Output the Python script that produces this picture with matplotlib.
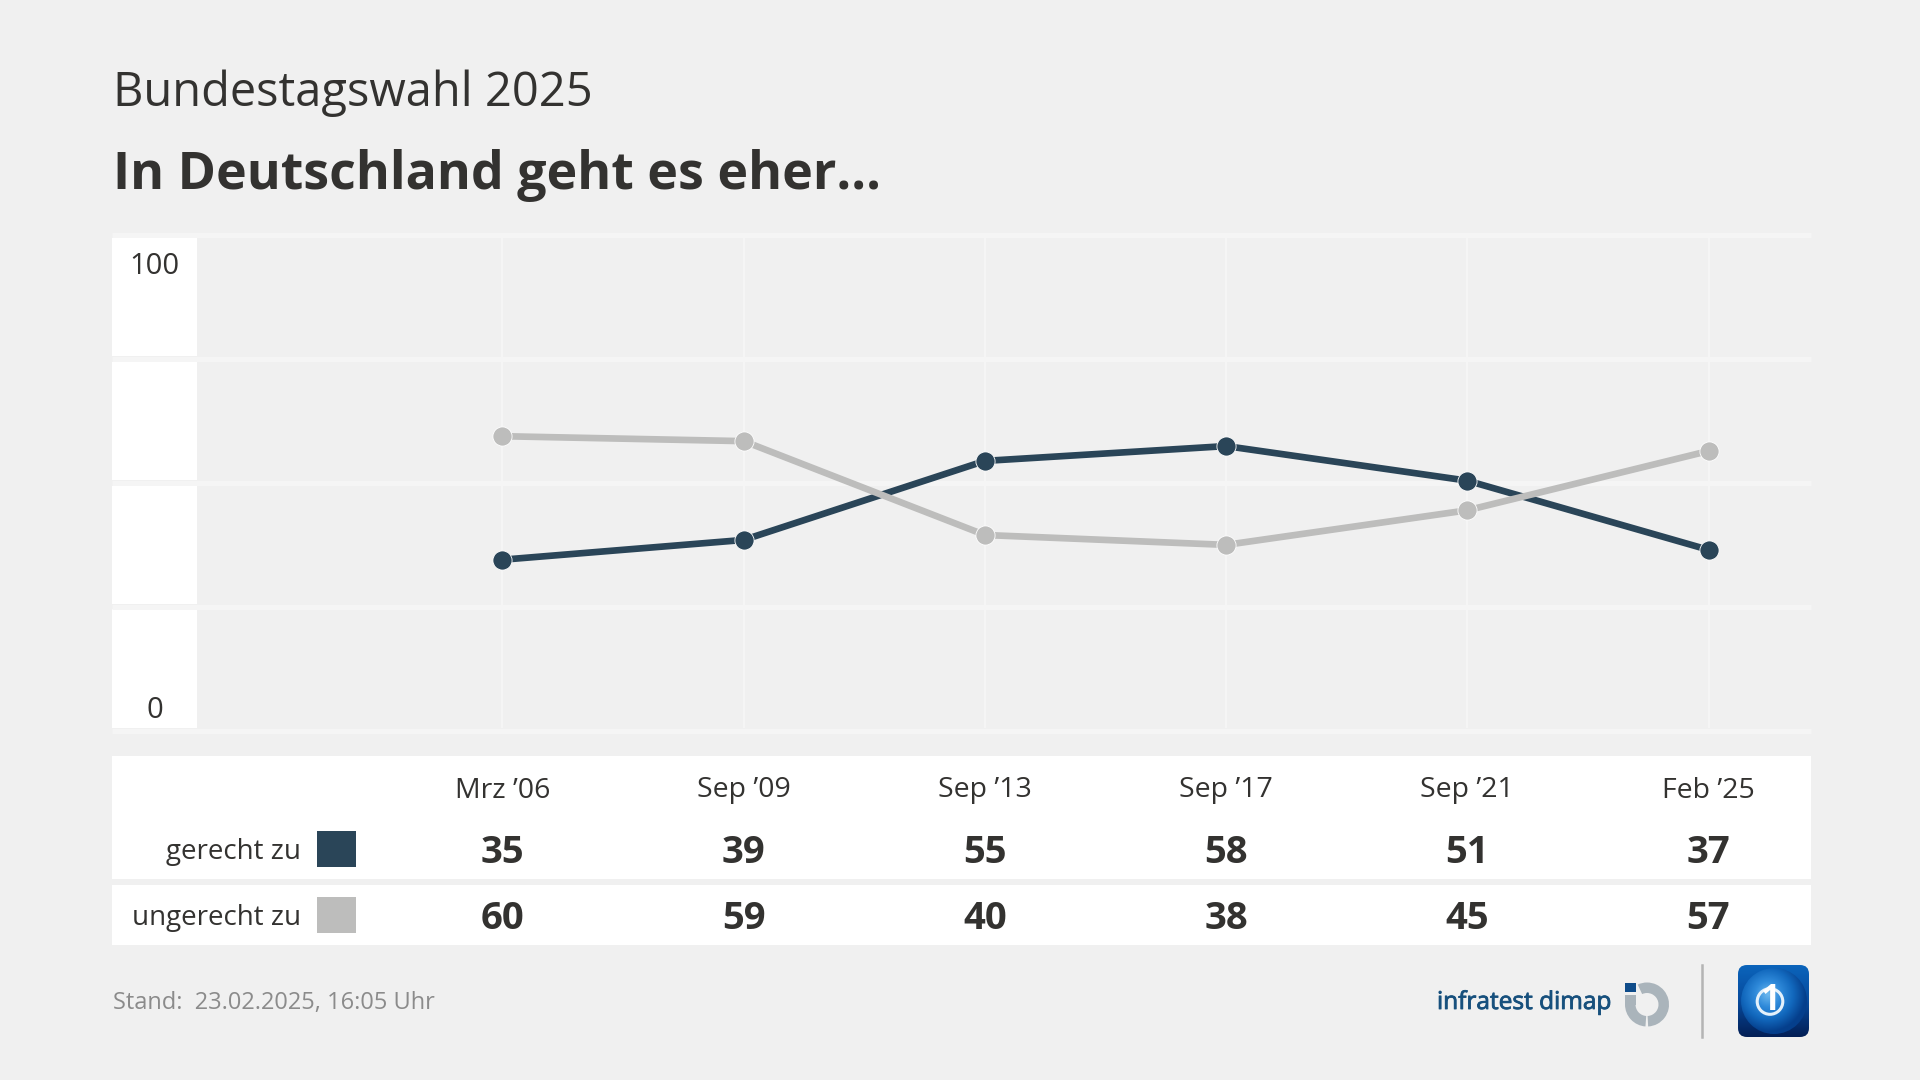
"""Bundestagswahl 2025 - In Deutschland geht es eher..."""
import matplotlib

matplotlib.use("Agg")
import matplotlib.pyplot as plt
import matplotlib.patheffects as pe
import numpy as np
from matplotlib.colors import LinearSegmentedColormap
from matplotlib.patches import Circle, FancyBboxPatch, Rectangle, Wedge

FONT = ["Open Sans", "DejaVu Sans"]
plt.rcParams["font.family"] = FONT

# data
dates = ["Mrz ’06", "Sep ’09", "Sep ’13", "Sep ’17", "Sep ’21", "Feb ’25"]
gerecht = [35, 39, 55, 58, 51, 37]
ungerecht = [60, 59, 40, 38, 45, 57]
series_names = ["gerecht zu", "ungerecht zu"]

BG = "#f0f0f0"
GRID = "#f5f5f5"
DARK = "#2a4558"
GREY = "#bdbdbc"
TEXT = "#333230"
LOGO_BLUE = "#17507d"

W, H = 1920, 1080
# pixel positions of the plot
X0, X5 = 502.5, 1708.5
Y0, Y100 = 732.6, 238.6
LEFT, RIGHT = 112, 1811


def px_to_col(x):
    return (x - X0) / (X5 - X0) * 5


def px_to_val(y):
    return (Y0 - y) / (Y0 - Y100) * 100


fig = plt.figure(figsize=(W / 100, H / 100), dpi=100, facecolor=BG)

# overlay in pixels for table, strips, titles, logos
bg = fig.add_axes([0, 0, 1, 1])
bg.axis("off")

bg.text(113, 93, "Bundestagswahl 2025", fontsize=33.8, color=TEXT, va="center")
bg.text(113, 175, "In Deutschland geht es eher...", fontsize=37.4, color=TEXT,
        va="center", fontweight="bold")

# white strip behind y labels + grid bands
for top, bottom in [(238, 356), (362, 480), (486, 604), (609, 728)]:
    bg.add_patch(Rectangle((LEFT, top), 197 - LEFT, bottom - top, fc="white", ec="none"))
for yy in [235, 359, 483, 606.5, 730.5]:
    bg.plot([LEFT, RIGHT], [yy, yy], color=GRID, lw=3.6, solid_capstyle="butt")

bg.text(154.5, 266, "100", fontsize=21, color=TEXT, ha="center", va="center")
bg.text(154.5, 711, "0", fontsize=21, color=TEXT, ha="center", va="center")

# the line chart
top_px, bot_px = 233, 734
ax = fig.add_axes([LEFT / W, 1 - bot_px / H, (RIGHT - LEFT) / W, (bot_px - top_px) / H])
ax.patch.set_alpha(0)
ax.set_xlim(px_to_col(LEFT), px_to_col(RIGHT))
ax.set_ylim(px_to_val(bot_px), px_to_val(top_px))
ax.axis("off")
xs = np.arange(len(dates))
ax.vlines(xs, px_to_val(728), px_to_val(238), color=GRID, lw=1.6, zorder=1)
ax.plot(xs, gerecht, color=DARK, lw=4.8, marker="o", ms=13.8, mec="white", mew=0.6, zorder=3)
ax.plot(xs, ungerecht, color=GREY, lw=4.8, marker="o", ms=13.8, mec="white", mew=0.6, zorder=4)

# table below
bg.add_patch(Rectangle((LEFT, 756), RIGHT - LEFT, 123, fc="white", ec="none"))
bg.add_patch(Rectangle((LEFT, 885), RIGHT - LEFT, 60, fc="white", ec="none"))
col_px = [X0 + (X5 - X0) * i / 5 for i in range(len(dates))]
for x, d, a, b in zip(col_px, dates, gerecht, ungerecht):
    bg.text(x, 790.5, d, fontsize=20.5, color=TEXT, ha="center", va="center")
    bg.text(x, 853, str(a), fontsize=27.5, color=TEXT, ha="center", va="center", fontweight="bold")
    bg.text(x, 919, str(b), fontsize=27.5, color=TEXT, ha="center", va="center", fontweight="bold")
for name, c, top, ty in zip(series_names, [DARK, GREY], [831, 897], [852, 918]):
    bg.text(301, ty, name, fontsize=20, color=TEXT, ha="right", va="center")
    bg.add_patch(Rectangle((317, top), 39, 36, fc=c, ec="none"))

# footer
bg.text(113, 1003, "Stand:  23.02.2025, 16:05 Uhr", fontsize=17, color="#8b8b8b", va="center")
bg.text(1437, 1003, "infratest dimap", fontsize=17.6, color=LOGO_BLUE, va="center",
        path_effects=[pe.withStroke(linewidth=0.6, foreground=LOGO_BLUE)])

# infratest logo mark
RING = "#aab4bb"
bg.add_patch(Rectangle((1625, 983), 10.5, 9, fc="#0f4c8a", ec="none"))
bg.add_patch(Wedge((1647, 1004.5), 22, -115, 87, width=10.5, fc=RING, ec="none"))
bg.add_patch(Wedge((1647, 1004.5), 22, 94, 180, width=10.5, fc=RING, ec="none"))
bg.add_patch(Rectangle((1625, 995), 10.5, 9.7, fc=RING, ec="none"))

bg.plot([1702, 1702], [965, 1037], color="#b4b4b4", lw=1.8)

# tagesschau logo
box = FancyBboxPatch((1741, 968), 65, 66, boxstyle="round,pad=3,rounding_size=9", fc="none", ec="none")
bg.add_patch(box)
back = LinearSegmentedColormap.from_list("back", ["#0b64bb", "#074a9c", "#031f56"])
im = bg.imshow(np.linspace(0, 1, 64).reshape(-1, 1), extent=(1738, 1809, 1037, 965),
               cmap=back, aspect="auto", zorder=2)
im.set_clip_path(box)
gx, gy = np.meshgrid(np.linspace(1738, 1809, 72), np.linspace(965, 1037, 72))
dist = np.hypot(gx - 1768, gy - 994) / 38
globe = LinearSegmentedColormap.from_list("globe", ["#6db8ee", "#2f8ada", "#1268bd", "#053f8c"])
gl = bg.imshow(np.clip(dist, 0, 1), extent=(1738, 1809, 1037, 965), cmap=globe, aspect="auto",
               zorder=3, interpolation="bilinear")
gl.set_clip_path(Circle((1774, 1001), 33, transform=bg.transData))
bg.add_patch(Circle((1770, 1001.5), 12.8, fc="none", ec="#e4f1fb", lw=2.2, zorder=4))
bg.text(1771, 1001, "1", fontsize=25, color="white", ha="center", va="center", fontweight="bold", zorder=5)

bg.set_xlim(0, W)
bg.set_ylim(H, 0)

fig.savefig("out.png", dpi=100, facecolor=BG)
